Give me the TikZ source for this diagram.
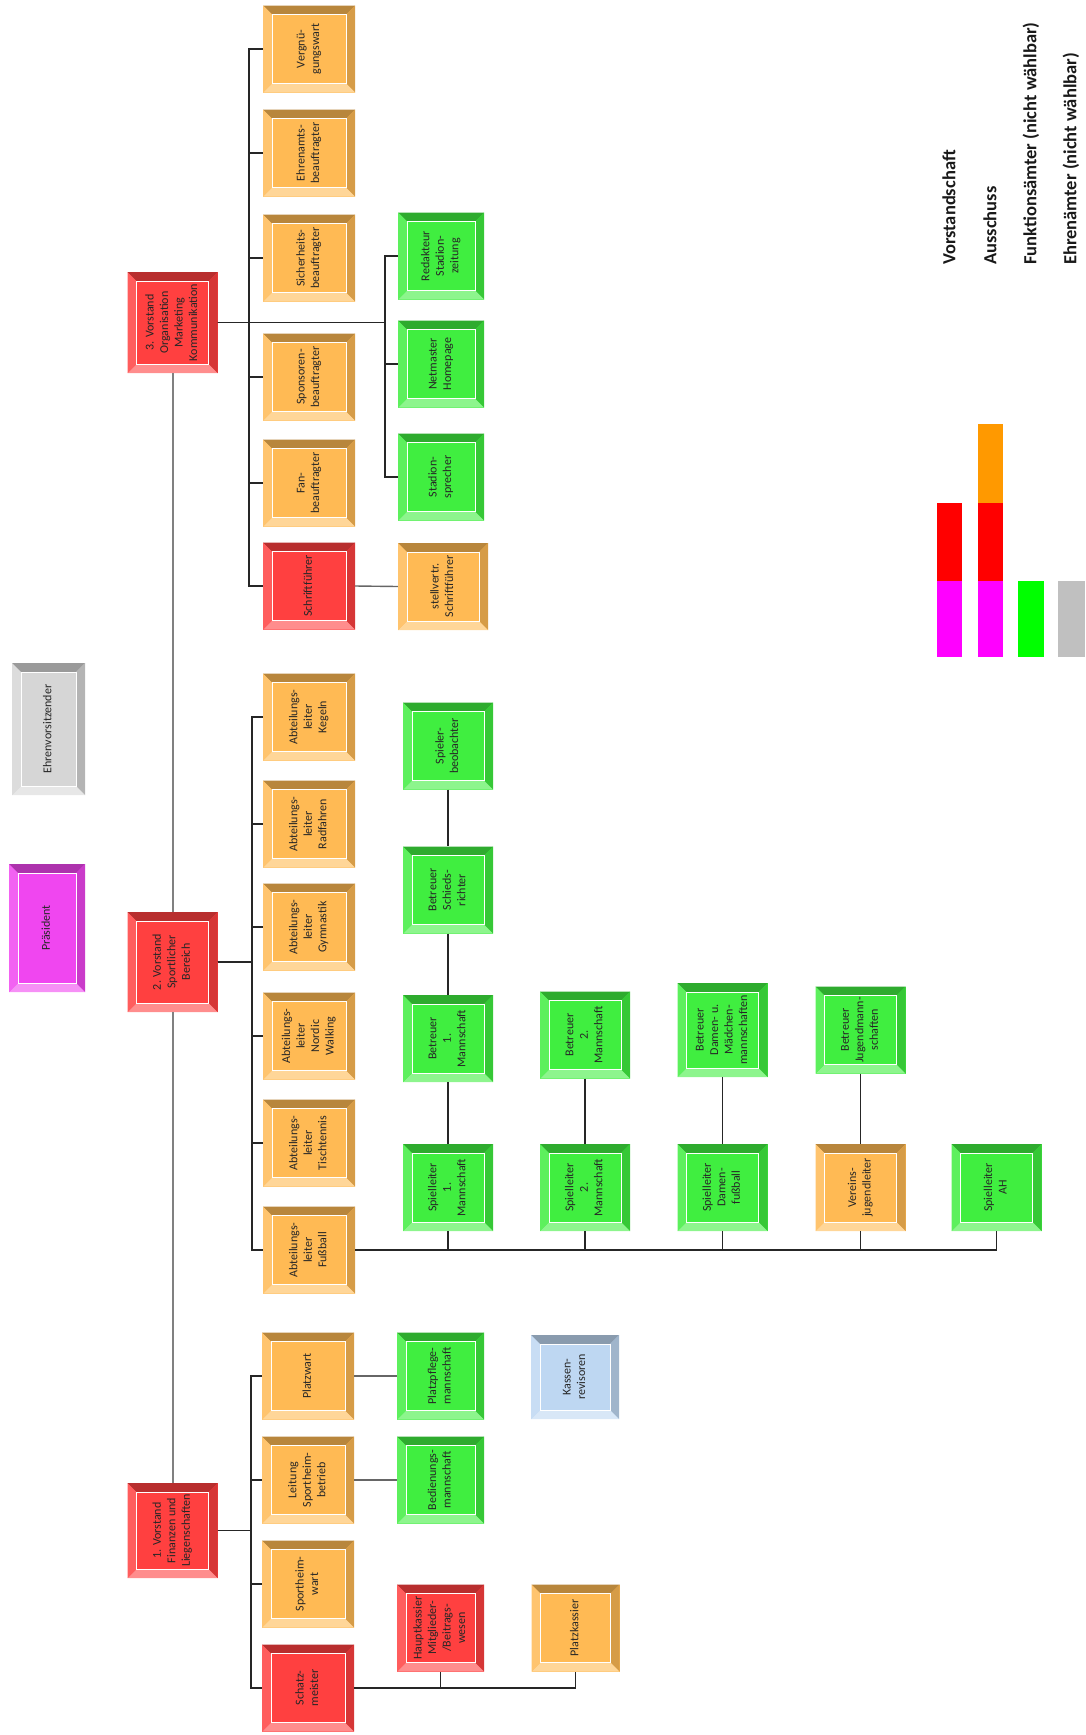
\documentclass[tikz,border=0pt]{standalone}
\usepackage{fontspec}
\setmainfont{Carlito}
\usepackage{graphicx}
\usetikzlibrary{positioning}
\definecolor{BoxRed}{RGB}{255,64,64}
\definecolor{BoxOrange}{RGB}{255,186,84}
\definecolor{BoxGreen}{RGB}{64,238,64}
\definecolor{BoxGray}{RGB}{214,214,214}
\definecolor{BoxMag}{RGB}{240,70,240}
\definecolor{BoxBlue}{RGB}{190,215,242}
\definecolor{LegRed}{RGB}{255,0,0}
\definecolor{LegMag}{RGB}{255,0,255}
\definecolor{LegOrange}{RGB}{255,153,0}
\definecolor{LegGreen}{RGB}{0,255,0}
\definecolor{LegGray}{RGB}{192,192,192}
\newcommand{\vtext}[1]{\rotatebox{90}{\begin{tabular}{@{}c@{}}#1\end{tabular}}}
\tikzset{
  obox/.style={draw=none,fill=#1,inner sep=0pt,minimum width=90pt,minimum height=87pt,
    font=\fontsize{12}{14.5}\selectfont,text=black!85,
    path picture={
      \path (path picture bounding box.north west) coordinate (a1)
            (path picture bounding box.north east) coordinate (a2)
            (path picture bounding box.south east) coordinate (a3)
            (path picture bounding box.south west) coordinate (a4)
            ([xshift=9pt,yshift=-9pt]a1) coordinate (b1)
            ([xshift=-9pt,yshift=-9pt]a2) coordinate (b2)
            ([xshift=-9pt,yshift=9pt]a3) coordinate (b3)
            ([xshift=9pt,yshift=9pt]a4) coordinate (b4);
      \fill[#1!72!black] (a1)--(a2)--(b2)--(b1)--cycle;
      \fill[#1!84!black] (a2)--(a3)--(b3)--(b2)--cycle;
      \fill[#1!60!white] (a3)--(a4)--(b4)--(b3)--cycle;
      \fill[#1!85!white] (a4)--(a1)--(b1)--(b4)--cycle;
      \draw[white,line width=0.8pt] (b1) rectangle (b3);
    }},
  conn/.style={draw=black!85,line width=1.2pt},
  link/.style={draw=black!60,line width=1.4pt},
  trunk/.style={draw=black!50,line width=2pt},
  legtext/.style={font=\fontsize{18.5}{20}\selectfont\bfseries,text=black!90,inner sep=0pt},
}

\begin{document}
\begin{tikzpicture}[x=1pt,y=-1pt]
\useasboundingbox (0,0) rectangle (1085,1735);
% Ehrenvorsitz und Praesident
\node[obox=BoxGray,minimum width=73pt,minimum height=132pt] (ehrenvors) at (48.5,729) {\vtext{Ehrenvorsitzender}};
\node[obox=BoxMag,minimum width=76pt,minimum height=128pt] (praes) at (47,928) {\vtext{Präsident}};
% Vorstand
\node[obox=BoxRed,minimum height=101pt] (vorst3) at (172.5,322.5) {\vtext{3. Vorstand\\Organisation\\Marketing\\Kommunikation}};
\node[obox=BoxRed,minimum height=100pt] (vorst2) at (172.5,962) {\vtext{2. Vorstand\\Sportlicher\\Bereich}};
\node[obox=BoxRed,minimum height=95pt] (vorst1) at (172.5,1530.5) {\vtext{1. Vorstand\\Finanzen und\\Liegenschaften}};
% 3. Vorstand
\node[obox=BoxOrange,minimum width=92pt] (vergnuegen) at (309,49) {\vtext{Vergnü-\\gungswart}};
\node[obox=BoxOrange,minimum width=92pt] (ehrenamt) at (309,153) {\vtext{Ehrenamts-\\beauftragter}};
\node[obox=BoxOrange,minimum width=92pt] (sicherheit) at (309,258) {\vtext{Sicherheits-\\beauftragter}};
\node[obox=BoxOrange,minimum width=92pt] (sponsor) at (309,377) {\vtext{Sponsoren-\\beauftragter}};
\node[obox=BoxOrange,minimum width=92pt] (fan) at (309,483) {\vtext{Fan-\\beauftragter}};
\node[obox=BoxRed,minimum width=92pt] (schrift) at (309,586) {\vtext{Schriftführer}};
\node[obox=BoxGreen,minimum width=86pt] (redakteur) at (441,256) {\vtext{Redakteur\\Stadion-\\zeitung}};
\node[obox=BoxGreen,minimum width=86pt] (netmaster) at (441,364) {\vtext{Netmaster\\Homepage}};
\node[obox=BoxGreen,minimum width=86pt] (stadionspr) at (441,477) {\vtext{Stadion-\\sprecher}};
\node[obox=BoxOrange] (stellv) at (443,586.5) {\vtext{stellvertr.\\Schriftführer}};
% 2. Vorstand
\node[obox=BoxOrange,minimum width=92pt] (kegeln) at (309,717) {\vtext{Abteilungs-\\leiter\\Kegeln}};
\node[obox=BoxOrange,minimum width=92pt] (radfahren) at (309,824) {\vtext{Abteilungs-\\leiter\\Radfahren}};
\node[obox=BoxOrange,minimum width=92pt] (gymnastik) at (309,927) {\vtext{Abteilungs-\\leiter\\Gymnastik}};
\node[obox=BoxOrange,minimum width=92pt] (nordic) at (309,1036) {\vtext{Abteilungs-\\leiter\\Nordic\\Walking}};
\node[obox=BoxOrange,minimum width=92pt] (tischtennis) at (309,1143) {\vtext{Abteilungs-\\leiter\\Tischtennis}};
\node[obox=BoxOrange,minimum width=92pt] (fussball) at (309,1250) {\vtext{Abteilungs-\\leiter\\Fußball}};
\node[obox=BoxGreen] (spielerbeob) at (448,746) {\vtext{Spieler-\\beobachter}};
\node[obox=BoxGreen] (schiedsr) at (448,890) {\vtext{Betreuer\\Schieds-\\richter}};
\node[obox=BoxGreen] (betreuer1) at (448,1038.5) {\vtext{Betreuer\\1.\\Mannschaft}};
\node[obox=BoxGreen] (betreuer2) at (585,1035) {\vtext{Betreuer\\2.\\Mannschaft}};
\node[obox=BoxGreen,minimum height=94pt] (betreuerdamen) at (722.5,1030) {\vtext{Betreuer\\Damen- u.\\Mädchen-\\mannschaften}};
\node[obox=BoxGreen] (betreuerjugend) at (860.5,1030) {\vtext{Betreuer\\Jugendmann-\\schaften}};
\node[obox=BoxGreen] (sl1) at (448,1187.5) {\vtext{Spielleiter\\1.\\Mannschaft}};
\node[obox=BoxGreen] (sl2) at (585,1187.5) {\vtext{Spielleiter\\2.\\Mannschaft}};
\node[obox=BoxGreen] (sldamen) at (722.5,1187.5) {\vtext{Spielleiter\\Damen-\\fußball}};
\node[obox=BoxOrange] (jugendleiter) at (860.5,1187.5) {\vtext{Vereins-\\jugendleiter}};
\node[obox=BoxGreen] (slah) at (996.5,1187.5) {\vtext{Spielleiter\\AH}};
% 1. Vorstand
\node[obox=BoxOrange,minimum width=92pt] (platzwart) at (308,1376) {\vtext{Platzwart}};
\node[obox=BoxOrange,minimum width=92pt] (leitung) at (308,1480) {\vtext{Leitung\\Sportheim-\\betrieb}};
\node[obox=BoxOrange,minimum width=92pt] (sportheimwart) at (308,1584) {\vtext{Sportheim-\\wart}};
\node[obox=BoxRed,minimum width=92pt] (schatz) at (308,1688) {\vtext{Schatz-\\meister}};
\node[obox=BoxGreen,minimum width=87pt] (platzpflege) at (440.5,1376) {\vtext{Platzpflege-\\mannschaft}};
\node[obox=BoxGreen,minimum width=87pt] (bedienung) at (440.5,1480) {\vtext{Bedienungs-\\mannschaft}};
\node[obox=BoxRed,minimum width=87pt] (hauptkassier) at (440.5,1628) {\vtext{Hauptkassier\\Mitglieder-\\/Beitrags-\\wesen}};
\node[obox=BoxBlue,minimum width=88pt,minimum height=84pt] (kassenrev) at (575,1377) {\vtext{Kassen-\\revisoren}};
\node[obox=BoxOrange,minimum width=88pt] (platzkassier) at (575.5,1628) {\vtext{Platzkassier}};
% Linien
\coordinate (bus3) at (249,0);
\coordinate (gbus3) at (385,0);
\coordinate (bus2) at (252,0);
\coordinate (bus1) at (251,0);
\draw[trunk] (vorst3.south) -- (vorst2.north);
\draw[trunk] (vorst2.south) -- (vorst1.north);
\foreach \n in {vergnuegen,ehrenamt,sicherheit,sponsor,fan,schrift}
  \draw[conn] (vorst3.east) -- (vorst3.east -| bus3) |- (\n.west);
\foreach \n in {redakteur,netmaster,stadionspr}
  \draw[conn] (vorst3.east) -- (vorst3.east -| gbus3) |- (\n.west);
\draw[link] (schrift.east) -- (stellv.west);
\foreach \n in {kegeln,radfahren,gymnastik,nordic,tischtennis,fussball}
  \draw[conn] (vorst2.east) -- (vorst2.east -| bus2) |- (\n.west);
\foreach \n in {sl1,sl2,sldamen,jugendleiter,slah}
  \draw[conn] (fussball.east) -| (\n.south);
\draw[conn] (spielerbeob.south) -- (schiedsr.north);
\draw[conn] (schiedsr.south) -- (betreuer1.north);
\draw[conn] (betreuer1.south) -- (sl1.north);
\draw[conn] (betreuer2.south) -- (sl2.north);
\draw[conn] (betreuerdamen.south) -- (sldamen.north);
\draw[conn] (betreuerjugend.south) -- (jugendleiter.north);
\foreach \n in {platzwart,leitung,sportheimwart,schatz}
  \draw[conn] (vorst1.east) -- (vorst1.east -| bus1) |- (\n.west);
\draw[link] (platzwart.east) -- (platzpflege.west);
\draw[link] (leitung.east) -- (bedienung.west);
\draw[conn] (schatz.east) -| (hauptkassier.south);
\draw[conn] (schatz.east) -| (platzkassier.south);
% Legende
\fill[LegRed] (937,503) rectangle (962,581);
\fill[LegMag] (937,581) rectangle (962,657);
\fill[LegOrange] (978,424) rectangle (1003,503);
\fill[LegRed] (978,503) rectangle (1003,581);
\fill[LegMag] (978,581) rectangle (1003,657);
\fill[LegGreen] (1018,581) rectangle (1044,657);
\fill[LegGray] (1058,581) rectangle (1085,657);
\node[legtext,rotate=90,anchor=west] (lvorst) at (949,265) {Vorstandschaft};
\node[legtext,rotate=90,anchor=west] (lausschuss) at (990,265) {Ausschuss};
\node[legtext,rotate=90,anchor=west] (lfunktion) at (1031,265) {Funktionsämter (nicht wählbar)};
\node[legtext,rotate=90,anchor=west] (lehren) at (1071,265) {Ehrenämter (nicht wählbar)};
\end{tikzpicture}
\end{document}
